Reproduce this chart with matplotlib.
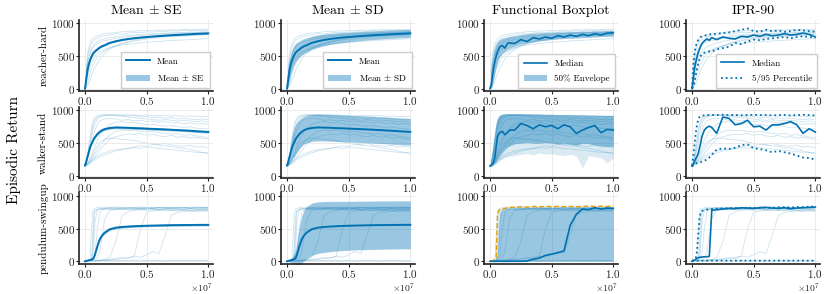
import numpy as np
import matplotlib
matplotlib.use('agg')
import matplotlib.pyplot as plt

# Computer-Modern look, with mathtext for the +/- sign and the x10^7 offset
plt.rcParams['font.family'] = ['cmr10', 'DejaVu Serif']
plt.rcParams['mathtext.fontset'] = 'cm'
plt.rcParams['axes.formatter.use_mathtext'] = True

# Training steps (units of 1e7)
steps = [0, .01, .02, .03, .04, .05, .06, .07, .08, .10, .12, .14, .16, .20, .25,
         .30, .35, .40, .45, .50, .55, .60, .65, .70, .75, .80, .85, .90, .95, 1.0]

env_names = ['reacher-hard', 'walker-stand', 'pendulum-swingup']
col_titles = ['Mean $\\pm$ SE', 'Mean $\\pm$ SD', 'Functional Boxplot', 'IPR-90']

# ---------------- reacher-hard ----------------
reacher_runs = [
    [0, 250, 450, 560, 630, 680, 710, 730, 750, 770, 790, 800, 810, 820, 840, 835, 850, 860, 855, 870, 865, 880, 875, 885, 880, 890, 885, 895, 890, 895],
    [0, 120, 260, 350, 420, 470, 510, 540, 570, 610, 640, 660, 670, 700, 720, 745, 760, 770, 785, 790, 800, 805, 815, 810, 825, 830, 835, 840, 845, 850],
    [0, 30, 90, 160, 230, 290, 340, 380, 420, 480, 520, 550, 580, 620, 660, 690, 710, 730, 745, 760, 770, 780, 790, 795, 800, 805, 810, 815, 820, 825],
    [0, 300, 520, 620, 690, 730, 760, 780, 790, 810, 820, 830, 840, 850, 860, 870, 875, 880, 885, 890, 890, 895, 895, 900, 900, 905, 900, 905, 905, 910],
    [0, 80, 180, 260, 330, 390, 430, 460, 490, 530, 560, 580, 600, 630, 650, 670, 680, 690, 700, 710, 715, 720, 730, 735, 740, 745, 750, 755, 760, 765],
    [0, 180, 350, 450, 520, 570, 610, 640, 660, 690, 710, 725, 735, 750, 770, 785, 795, 805, 815, 820, 830, 835, 840, 845, 850, 850, 855, 860, 860, 865],
    [0, 10, 40, 80, 130, 180, 230, 280, 320, 390, 450, 500, 540, 600, 650, 690, 720, 745, 760, 775, 785, 795, 800, 805, 810, 815, 820, 825, 825, 830],
    [0, 200, 380, 480, 550, 600, 640, 670, 690, 720, 740, 755, 765, 780, 795, 805, 815, 820, 830, 835, 840, 845, 850, 855, 855, 860, 865, 865, 870, 870],
]
reacher_mean = [0, 150, 280, 370, 430, 480, 520, 550, 570, 600, 630, 650, 665, 700, 725, 745, 760, 772, 782, 790, 798, 805, 812, 818, 823, 828, 833, 838, 842, 846]
reacher_se = [0, 15, 20, 20, 20, 18, 17, 16, 15, 14, 13, 13, 12, 12, 11, 11, 11, 10, 10, 10, 10, 10, 10, 10, 10, 10, 10, 10, 10, 10]
reacher_sd = [0, 100, 140, 150, 150, 145, 140, 135, 130, 120, 115, 110, 105, 100, 95, 90, 85, 80, 78, 75, 72, 70, 68, 66, 65, 64, 63, 62, 61, 60]
reacher_fb_median = [0, 60, 200, 330, 420, 500, 560, 600, 640, 660, 620, 690, 700, 690, 750, 720, 780, 760, 790, 770, 810, 790, 820, 800, 830, 810, 840, 820, 850, 855]
reacher_fb_lo = [0, 0, 50, 150, 250, 330, 400, 450, 490, 540, 570, 600, 620, 650, 680, 700, 715, 730, 740, 750, 760, 765, 770, 775, 780, 785, 790, 795, 800, 800]
reacher_fb_hi = [0, 250, 450, 570, 640, 690, 720, 740, 750, 770, 780, 790, 800, 810, 830, 840, 850, 855, 860, 865, 870, 870, 875, 875, 880, 880, 885, 885, 890, 890]
reacher_ipr_median = [0, 150, 300, 400, 480, 550, 600, 650, 690, 730, 760, 740, 780, 750, 790, 770, 760, 800, 790, 820, 800, 830, 810, 820, 840, 820, 830, 850, 830, 790]
reacher_p95 = [0, 350, 550, 650, 700, 740, 770, 790, 800, 810, 820, 830, 830, 840, 850, 860, 880, 900, 920, 880, 870, 900, 880, 890, 870, 880, 900, 890, 880, 870]
reacher_p5 = [0, 20, 100, 200, 300, 380, 450, 500, 530, 550, 560, 570, 570, 600, 620, 640, 700, 680, 720, 750, 740, 760, 770, 780, 790, 770, 790, 800, 790, 780]

# ---------------- walker-stand ----------------
walker_runs = [
    [150, 220, 330, 450, 580, 700, 790, 850, 890, 920, 930, 935, 940, 935, 940, 930, 935, 930, 925, 930, 920, 925, 920, 915, 920, 910, 915, 910, 905, 910],
    [160, 200, 270, 360, 460, 560, 660, 740, 800, 870, 900, 910, 920, 925, 920, 925, 915, 920, 900, 910, 890, 900, 880, 890, 870, 880, 870, 860, 870, 860],
    [140, 160, 190, 220, 260, 300, 350, 400, 450, 540, 620, 680, 720, 790, 820, 830, 810, 820, 800, 780, 790, 770, 760, 770, 750, 740, 750, 730, 720, 720],
    [150, 160, 170, 185, 200, 220, 240, 260, 290, 340, 390, 440, 480, 560, 600, 620, 640, 630, 650, 620, 640, 610, 600, 620, 590, 600, 580, 590, 570, 560],
    [170, 180, 190, 200, 215, 230, 245, 260, 270, 300, 320, 340, 350, 380, 400, 410, 420, 430, 420, 440, 430, 420, 410, 400, 390, 380, 370, 360, 355, 350],
    [150, 190, 250, 320, 400, 480, 560, 640, 700, 790, 840, 860, 870, 880, 870, 850, 860, 840, 850, 830, 840, 820, 830, 810, 820, 800, 810, 790, 800, 790],
    [160, 170, 185, 200, 220, 250, 280, 310, 340, 400, 460, 510, 550, 620, 680, 700, 690, 700, 680, 670, 680, 660, 650, 640, 650, 620, 630, 610, 600, 580],
    [140, 150, 160, 170, 185, 200, 215, 230, 245, 270, 290, 305, 320, 350, 380, 400, 420, 440, 460, 450, 480, 470, 460, 450, 430, 420, 400, 380, 360, 340],
    [150, 210, 300, 400, 520, 640, 740, 810, 860, 900, 915, 920, 925, 930, 920, 910, 900, 890, 880, 870, 860, 850, 860, 850, 840, 850, 840, 830, 840, 820],
    [150, 165, 185, 210, 240, 270, 310, 350, 390, 460, 510, 540, 560, 580, 570, 560, 550, 540, 520, 500, 490, 480, 500, 470, 460, 450, 470, 440, 450, 430],
]
walker_mean = [160, 220, 290, 360, 430, 480, 520, 560, 590, 640, 675, 700, 715, 732, 740, 738, 735, 730, 727, 722, 718, 714, 710, 705, 700, 695, 690, 683, 677, 672]
walker_se = [10, 12, 14, 16, 18, 19, 20, 20, 20, 20, 19, 19, 18, 18, 18, 18, 18, 18, 18, 18, 18, 18, 18, 18, 18, 18, 18, 18, 18, 18]
walker_sd = [20, 50, 90, 130, 170, 200, 220, 225, 225, 220, 215, 210, 210, 205, 205, 205, 205, 205, 205, 205, 205, 205, 205, 205, 205, 205, 205, 205, 205, 205]
walker_fb_median = [150, 160, 180, 220, 300, 450, 600, 640, 660, 680, 630, 660, 700, 700, 800, 770, 720, 780, 750, 770, 720, 780, 750, 650, 700, 740, 770, 660, 710, 700]
walker_fb_lo = [140, 150, 160, 180, 200, 230, 260, 290, 320, 370, 410, 440, 460, 490, 500, 510, 500, 500, 510, 500, 490, 500, 480, 470, 500, 490, 470, 460, 450, 450]
walker_fb_hi = [170, 260, 400, 550, 700, 820, 880, 910, 930, 945, 950, 950, 950, 950, 950, 948, 946, 944, 942, 940, 938, 936, 935, 934, 932, 930, 928, 927, 926, 925]
walker_fb_min = [130, 140, 150, 160, 170, 180, 200, 220, 240, 260, 280, 290, 300, 310, 330, 340, 320, 350, 330, 340, 320, 310, 330, 300, 120, 310, 290, 280, 200, 270]
walker_ipr_median = [150, 180, 220, 260, 300, 340, 420, 500, 600, 700, 740, 760, 740, 650, 900, 880, 780, 800, 850, 750, 760, 700, 780, 780, 800, 830, 780, 650, 720, 670]
walker_p95 = [160, 300, 480, 650, 780, 860, 900, 915, 920, 925, 930, 930, 930, 930, 935, 930, 930, 925, 930, 935, 930, 930, 925, 930, 930, 925, 930, 935, 930, 925]
walker_p5 = [140, 160, 175, 185, 195, 200, 205, 210, 215, 230, 250, 280, 320, 400, 420, 410, 430, 470, 480, 420, 410, 390, 360, 380, 360, 340, 310, 280, 270, 250]

# ---------------- pendulum-swingup ----------------
pendulum_runs = [
    [0, 0, 0, 5, 10, 20, 300, 700, 780, 800, 810, 800, 815, 820, 810, 820, 815, 825, 820, 815, 820, 825, 820, 830, 820, 825, 820, 830, 825, 820],
    [0, 0, 0, 0, 5, 10, 30, 200, 600, 780, 800, 810, 805, 810, 820, 810, 820, 815, 810, 820, 815, 825, 820, 815, 820, 825, 815, 820, 825, 820],
    [0, 0, 0, 0, 0, 5, 10, 30, 100, 500, 750, 790, 800, 805, 800, 810, 805, 810, 800, 810, 805, 800, 810, 805, 810, 800, 810, 805, 800, 810],
    [0, 0, 0, 0, 0, 0, 10, 15, 20, 50, 150, 400, 650, 780, 790, 800, 795, 800, 805, 800, 810, 800, 805, 810, 800, 805, 810, 800, 805, 800],
    [0, 0, 0, 0, 0, 0, 0, 5, 10, 15, 20, 25, 30, 60, 300, 700, 760, 780, 790, 780, 790, 785, 790, 780, 785, 790, 780, 785, 790, 785],
    [0, 0, 0, 0, 0, 0, 0, 0, 5, 10, 15, 20, 25, 30, 40, 60, 50, 80, 60, 100, 150, 120, 400, 700, 750, 760, 770, 760, 770, 765],
    [0, 0, 0, 0, 0, 0, 5, 5, 10, 10, 15, 10, 15, 10, 15, 10, 15, 10, 15, 10, 15, 10, 15, 10, 15, 10, 15, 10, 15, 10],
    [0, 0, 0, 0, 0, 0, 0, 0, 0, 5, 0, 5, 0, 5, 0, 5, 0, 5, 0, 5, 0, 5, 0, 5, 0, 5, 0, 5, 0, 5],
    [0, 0, 0, 10, 30, 400, 750, 800, 810, 820, 830, 825, 830, 820, 830, 825, 830, 820, 830, 825, 830, 825, 830, 820, 830, 825, 830, 825, 830, 825],
    [0, 0, 0, 0, 5, 20, 100, 500, 760, 790, 800, 795, 800, 790, 800, 795, 800, 790, 800, 795, 800, 790, 800, 795, 800, 790, 800, 795, 800, 795],
    [0, 0, 0, 0, 0, 0, 0, 0, 0, 0, 5, 10, 10, 20, 30, 40, 50, 80, 500, 750, 770, 780, 775, 780, 775, 780, 775, 780, 775, 780],
]
pendulum_mean = [0, 5, 10, 15, 20, 25, 35, 50, 100, 230, 340, 400, 440, 490, 515, 525, 532, 537, 541, 544, 547, 549, 551, 553, 554, 555, 556, 557, 558, 558]
pendulum_se = [0, 2, 3, 4, 5, 6, 8, 10, 14, 18, 20, 20, 19, 18, 17, 16, 16, 15, 15, 15, 15, 15, 15, 15, 15, 15, 15, 15, 15, 15]
pendulum_sd = [0, 10, 20, 30, 40, 60, 90, 130, 200, 300, 360, 390, 400, 400, 395, 390, 385, 380, 377, 375, 373, 372, 371, 370, 370, 369, 368, 368, 367, 367]
pendulum_fb_median = [0, 0, 0, 0, 0, 0, 0, 0, 0, 0, 0, 0, 0, 0, 0, 5, 30, 50, 90, 110, 130, 160, 550, 720, 800, 790, 820, 800, 815, 810]
pendulum_fb_lo = [0] * 30
pendulum_fb_hi = [0, 0, 10, 20, 30, 50, 100, 500, 750, 790, 800, 805, 810, 815, 820, 820, 825, 825, 825, 825, 825, 825, 825, 825, 825, 825, 825, 825, 825, 825]
pendulum_fb_max = [0, 5, 10, 20, 40, 60, 700, 780, 790, 800, 810, 820, 825, 830, 835, 830, 840, 835, 840, 835, 840, 835, 840, 835, 840, 845, 840, 845, 840, 845]
pendulum_ipr_median = [0, 10, 20, 30, 45, 55, 60, 62, 65, 68, 70, 75, 780, 790, 800, 810, 805, 820, 815, 810, 820, 825, 815, 810, 820, 805, 815, 820, 825, 830]
pendulum_p95 = [0, 20, 30, 50, 150, 400, 650, 750, 770, 780, 790, 800, 800, 805, 810, 810, 815, 815, 820, 815, 820, 825, 820, 825, 830, 825, 830, 830, 835, 840]
pendulum_p5 = [0, 5, 5, 5, 8, 8, 8, 10, 10, 10, 10, 10, 10, 10, 10, 10, 10, 10, 10, 10, 10, 10, 10, 10, 10, 10, 10, 10, 10, 10]

runs = [reacher_runs, walker_runs, pendulum_runs]
means = [reacher_mean, walker_mean, pendulum_mean]
ses = [reacher_se, walker_se, pendulum_se]
sds = [reacher_sd, walker_sd, pendulum_sd]
fb_median = [reacher_fb_median, walker_fb_median, pendulum_fb_median]
fb_lo = [reacher_fb_lo, walker_fb_lo, pendulum_fb_lo]
fb_hi = [reacher_fb_hi, walker_fb_hi, pendulum_fb_hi]
ipr_median = [reacher_ipr_median, walker_ipr_median, pendulum_ipr_median]
p95 = [reacher_p95, walker_p95, pendulum_p95]
p5 = [reacher_p5, walker_p5, pendulum_p5]

blue = '#0072B2'
orange = '#E69F00'

x = np.array(steps) * 1e7

fig = plt.figure(figsize=(8.29, 2.94), dpi=100)
W, H = 829., 294.
col_left = [79, 281, 484, 686]
row_top = [19.5, 106.7, 192.2]
ax_w, ax_h = 134, 71.5

for r in range(3):
    for c in range(4):
        ax = fig.add_axes([col_left[c] / W, 1 - (row_top[r] + ax_h) / H, ax_w / W, ax_h / H])

        # individual runs
        for run in runs[r]:
            ax.plot(x, run, color=blue, lw=0.6, alpha=0.2, zorder=1)

        m = np.array(means[r])
        if c == 0:
            se = np.array(ses[r])
            ax.fill_between(x, m - se, m + se, color=blue, alpha=0.4, lw=0, label='Mean $\\pm$ SE', zorder=2)
            ax.plot(x, m, color=blue, lw=1.4, label='Mean', zorder=3)
        elif c == 1:
            sd = np.array(sds[r])
            ax.fill_between(x, m - sd, m + sd, color=blue, alpha=0.4, lw=0, label='Mean $\\pm$ SD', zorder=2)
            ax.plot(x, m, color=blue, lw=1.4, label='Mean', zorder=3)
        elif c == 2:
            if r == 1:
                ax.fill_between(x, walker_fb_min, fb_hi[r], color=blue, alpha=0.15, lw=0, zorder=2)
            ax.fill_between(x, fb_lo[r], fb_hi[r], color=blue, alpha=0.4, lw=0, label='50% Envelope', zorder=2)
            if r == 2:
                ax.plot(x, pendulum_fb_max, color=orange, lw=1.0, ls='--', zorder=3)
            ax.plot(x, fb_median[r], color=blue, lw=1.2, label='Median', zorder=4)
        else:
            ax.plot(x, ipr_median[r], color=blue, lw=1.2, label='Median', zorder=4)
            ax.plot(x, p95[r], color=blue, lw=1.3, ls=':', label='5/95 Percentile', zorder=3)
            ax.plot(x, p5[r], color=blue, lw=1.3, ls=':', zorder=3)

        ax.set_xlim(-0.049e7, 1.038e7)
        ax.set_ylim(-37, 1058)
        ax.set_xticks([0, 0.5e7, 1e7])
        ax.set_yticks([0, 500, 1000])
        ax.grid(True, color='#e8e8e8', lw=0.6, zorder=0)
        for s in ['top', 'right']:
            ax.spines[s].set_visible(False)
        for s in ['left', 'bottom']:
            ax.spines[s].set_linewidth(1.2)
            ax.spines[s].set_color('#222222')
        ax.tick_params(direction='out', length=2, width=0.8, labelsize=8, pad=1, colors='#222222')
        # scale factor is written by hand below the bottom row
        ax.xaxis.get_offset_text().set_visible(False)
        if r == 2:
            ax.text(1.0, -0.25, '$\\times10^{7}$', transform=ax.transAxes,
                    ha='right', va='top', fontsize=7, color='#222222')

        if r == 0:
            ax.set_title(col_titles[c], fontsize=10, pad=4)
            handles, labels = ax.get_legend_handles_labels()
            # mean / median line first, band second
            order = [labels.index(l) for l in labels if l in ('Mean', 'Median')] + \
                    [labels.index(l) for l in labels if l not in ('Mean', 'Median')]
            ax.legend([handles[i] for i in order], [labels[i] for i in order],
                      loc='lower right', fontsize=6.5, frameon=True, fancybox=False,
                      edgecolor='#cccccc', framealpha=1, handlelength=2.6,
                      borderpad=0.6, labelspacing=0.7, borderaxespad=0.3)
        if c == 0:
            ax.set_ylabel(env_names[r], fontsize=8, labelpad=2)

fig.text(14 / W, 1 - 150 / H, 'Episodic Return', rotation=90, fontsize=11, ha='center', va='center')

plt.savefig('out.png', dpi=100)
